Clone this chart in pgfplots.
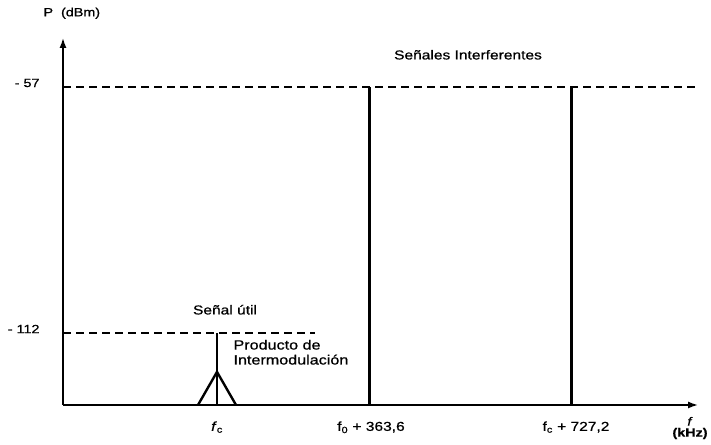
\documentclass[border=0pt]{standalone}
\usepackage{fontspec}
\setmainfont{Liberation Sans}[FakeStretch=1.2, FakeBold=0.8]
\usepackage{pgfplots}
\pgfplotsset{compat=1.18}
\usetikzlibrary{arrows.meta}
\begin{document}
\begin{tikzpicture}[x=1bp,y=1bp]
\path[use as bounding box] (0,0) rectangle (711,445);
\begin{axis}[
  at={(63bp,40bp)}, anchor=south west,
  scale only axis, width=635bp, height=367bp,
  xmin=63, xmax=698, ymin=-128.1, ymax=-46.04,
  axis x line=bottom, axis y line=left,
  axis line style={line width=1.5pt, -{Latex[length=10pt,width=7pt]}},
  xtick={217,369,571}, xticklabels={},
  ytick={-57,-112}, yticklabels={- 57,- 112},
  major tick length=0pt,
  tick label style={font=\fontsize{12}{14}\selectfont},
  /pgf/number format/assume math mode=true,
  yticklabel style={xshift=-20bp, yshift=4bp},
  clip=false,
]
% dashed reference levels
\addplot[black, line width=1.3pt, dash pattern=on 8bp off 5bp] coordinates {(63,-57) (698,-57)};
\addplot[black, line width=1.3pt, dash pattern=on 8bp off 5bp] coordinates {(63,-112) (315,-112)};
% interfering signals
\addplot[black, line width=3pt] coordinates {(369,-128.1) (369,-57)};
\addplot[black, line width=3pt] coordinates {(571,-128.1) (571,-57)};
% useful signal
\addplot[black, line width=2.2pt] coordinates {(217,-128.1) (217,-112)};
% intermodulation product
\addplot[black, line width=2.4pt, line join=miter] coordinates {(198,-128.1) (217,-120.7) (236,-128.1)};
% texts
\node[font=\fontsize{13}{15}\selectfont] at (axis cs:468,-49.8) {Señales Interferentes};
\node[font=\fontsize{13}{15}\selectfont] at (axis cs:225,-106.8) {Señal útil};
\node[font=\fontsize{13.5}{16}\selectfont, align=left, anchor=west] at (axis cs:230,-116.3) {Producto de\\[-1pt]Intermodulación};
\node[font=\fontsize{13}{15}\selectfont, anchor=north] at (axis cs:217,-131) {\textit{f}\textsubscript{c}};
\node[font=\fontsize{13}{15}\selectfont, anchor=north] at (axis cs:371,-131) {f\textsubscript{0} + 363,6};
\node[font=\fontsize{13}{15}\selectfont, anchor=north] at (axis cs:576,-131) {f\textsubscript{c} + 727,2};
\node[font=\fontsize{12}{14}\selectfont, align=center, anchor=north] at (axis cs:690,-130) {\textit{f}\\[-3pt]\textbf{(kHz)}};
\node[font=\fontsize{12}{14}\selectfont, anchor=west] at (axis cs:40,-40.5) {P\ \ (dBm)};
\end{axis}
\end{tikzpicture}
\end{document}
